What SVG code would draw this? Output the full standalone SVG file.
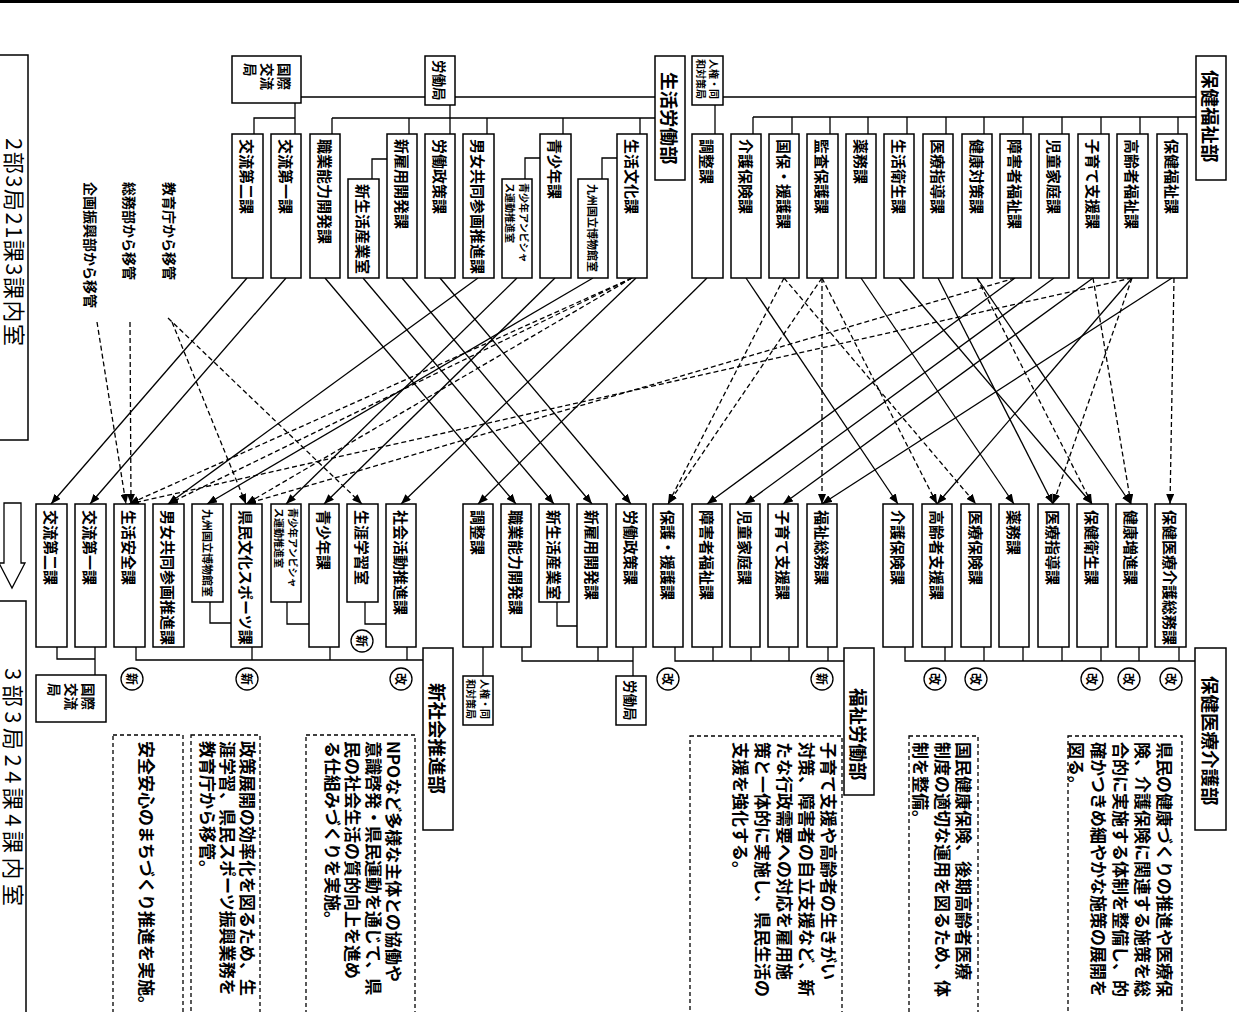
<svg xmlns="http://www.w3.org/2000/svg" width="1239" height="1012" viewBox="0 0 1239 1012">
<style>
.bx{fill:#fff;stroke:#000;stroke-width:1.5}
.ln{fill:none;stroke:#000;stroke-width:1.3}
.s{fill:none;stroke:#000;stroke-width:1.3;marker-end:url(#ah)}
.d{fill:none;stroke:#000;stroke-width:1.3;stroke-dasharray:5 3;marker-end:url(#ah)}
.db{fill:none;stroke:#000;stroke-width:1.3;stroke-dasharray:4 3}
text{font-family:"Noto Sans CJK JP","Noto Sans",sans-serif;fill:#000;dominant-baseline:central}
.t{font-size:15px;font-weight:700}
.h{font-size:18.5px;font-weight:700}
.sm{font-size:11px;font-weight:700}
.xs{font-size:10px;font-weight:700}
.ml{font-size:13.5px;font-weight:700}
.lb{font-size:14px;font-weight:700}
.ds{font-size:17px;font-weight:700}
.big{font-size:22px}
.c{fill:#fff;stroke:#000;stroke-width:1.3}
.ct{font-size:12px;font-weight:700;text-anchor:middle}
</style>
<defs>
<marker id="ah" viewBox="0 0 10 8" refX="10" refY="4" markerWidth="10" markerHeight="8" markerUnits="userSpaceOnUse" orient="auto"><path d="M0,0 L10,4 L0,8 z" fill="#000"/></marker>
</defs>
<rect x="0" y="0" width="1239" height="3" fill="#000"/>

<g id="connectors">
<path class="ln" d="M301 97 H655 M723 97 H1196"/>
<path class="ln" d="M753 117 H1196 M753 117 V134 M792 117 V134 M830 117 V134 M868 117 V134 M907 117 V134 M946 117 V134 M984 117 V134 M1023 117 V134 M1062 117 V134 M1101 117 V134 M1140 117 V134 M1178 117 V134"/>
<path class="ln" d="M715 105 V134"/>
<path class="ln" d="M332 118 H655 M332 118 V134 M409 118 V134 M487 118 V134 M563 118 V134 M640 118 V134"/>
<path class="ln" d="M450 105 V134 M295 103 V134 M254 134 V118 H295"/>
<path class="ln" d="M387 159 H372 V179 M540 158 H525 V179 M617 158 H602 V179"/>
<path class="ln" d="M57 647 V659 H95 M95 647 V675"/>
<path class="ln" d="M136 647 V660 H423 M252 647 V660 M330 647 V660 M407 647 V660"/>
<path class="ln" d="M210 602 V623 H231 M287 602 V624 H309 M365 602 V624 H386 M557 602 V626 H577"/>
<path class="ln" d="M483 647 V676 M522 647 V661 H633 M598 647 V661 M633 647 V676"/>
<path class="ln" d="M675 647 V661 H844 M713 647 V661 M751 647 V661 M789 647 V661 M828 647 V661"/>
<path class="ln" d="M905 647 V661 H1195 M945 647 V661 M984 647 V661 M1023 647 V661 M1062 647 V661 M1101 647 V661 M1139 647 V661 M1179 647 V661"/>
<line class="s" x1="247" y1="278" x2="51" y2="504"/>
<line class="s" x1="286" y1="278" x2="90" y2="504"/>
<line class="s" x1="325" y1="278" x2="516" y2="504"/>
<line class="s" x1="363" y1="278" x2="554" y2="504"/>
<line class="s" x1="402" y1="278" x2="592" y2="504"/>
<line class="s" x1="440" y1="278" x2="631" y2="504"/>
<line class="s" x1="478" y1="278" x2="168" y2="504"/>
<line class="s" x1="517" y1="278" x2="286" y2="504"/>
<line class="s" x1="555" y1="278" x2="324" y2="504"/>
<line class="s" x1="593" y1="278" x2="207" y2="504"/>
<line class="s" x1="636" y1="278" x2="401" y2="504"/>
<line class="s" x1="707" y1="278" x2="478" y2="504"/>
<line class="s" x1="746" y1="278" x2="898" y2="504"/>
<line class="s" x1="861" y1="278" x2="1014" y2="504"/>
<line class="s" x1="899" y1="278" x2="1092" y2="504"/>
<line class="s" x1="938" y1="278" x2="1053" y2="504"/>
<line class="s" x1="977" y1="278" x2="1131" y2="504"/>
<line class="s" x1="1015" y1="278" x2="707" y2="504"/>
<line class="s" x1="1054" y1="278" x2="745" y2="504"/>
<line class="s" x1="1093" y1="278" x2="783" y2="504"/>
<line class="s" x1="1132" y1="278" x2="937" y2="504"/>
<line class="s" x1="1172" y1="278" x2="822" y2="504"/>
<line class="d" x1="97" y1="322" x2="126" y2="504"/>
<line class="d" x1="130" y1="322" x2="131" y2="504"/>
<line class="d" x1="168" y1="318" x2="362" y2="504"/>
<line class="d" x1="172" y1="322" x2="246" y2="504"/>
<line class="d" x1="632" y1="278" x2="129" y2="504"/>
<line class="d" x1="632" y1="278" x2="168" y2="504"/>
<line class="d" x1="632" y1="278" x2="246" y2="504"/>
<line class="d" x1="784" y1="278" x2="668" y2="504"/>
<line class="d" x1="784" y1="278" x2="976" y2="504"/>
<line class="d" x1="822" y1="278" x2="668" y2="504"/>
<line class="d" x1="822" y1="278" x2="822" y2="504"/>
<line class="d" x1="822" y1="278" x2="937" y2="504"/>
<line class="d" x1="977" y1="278" x2="1092" y2="504"/>
<line class="d" x1="1093" y1="278" x2="1131" y2="504"/>
<line class="d" x1="1132" y1="278" x2="1053" y2="504"/>
<line class="d" x1="1132" y1="278" x2="129" y2="504"/>
<line class="d" x1="1015" y1="278" x2="246" y2="504"/>
<line class="d" x1="1174" y1="278" x2="1170" y2="504"/>
</g>

<g id="title-before">
<rect class="bx" x="-2" y="55" width="30" height="385"/>
<text class="big" transform="translate(15.5 138) rotate(90)" letter-spacing="1.5">2部3局21課3課内室</text>
</g>
<g id="title-arrow"><polygon points="4,503 21,503 21,563 25,563 12,588 -1,563 4,563" fill="#fff" stroke="#000" stroke-width="1.3"/></g>
<g id="title-after">
<rect class="bx" x="-2" y="601" width="28" height="420"/>
<text class="big" transform="translate(14.5 668) rotate(90)" letter-spacing="4.5">3部3局24課4課内室</text>
</g>
<g id="labels">
<text class="lb" transform="translate(170 182) rotate(90)">教育庁から移管</text>
<text class="lb" transform="translate(130 182) rotate(90)">総務部から移管</text>
<text class="lb" transform="translate(91 182) rotate(90)">企画振興部から移管</text>
</g>

<g id="t-kokusai"><rect class="bx" x="232" y="56" width="69" height="47"/><text class="ml" transform="translate(285 63) rotate(90)">国際</text><text class="ml" transform="translate(268 63) rotate(90)">交流</text><text class="ml" transform="translate(251 63) rotate(90)">局</text></g>
<g id="t-roudoukyoku"><rect class="bx" x="425" y="56" width="30" height="49"/><text class="ml" transform="translate(440 60) rotate(90)">労働局</text></g>
<g id="t-seikatsuroudoubu"><rect class="bx" x="655" y="56" width="30" height="124"/><text class="h" transform="translate(670 72) rotate(90)">生活労働部</text></g>
<g id="t-jinken"><rect class="bx" x="692" y="56" width="31" height="49"/><text class="xs" transform="translate(714 59) rotate(90)">人権・同</text><text class="xs" transform="translate(701 59) rotate(90)">和対策局</text></g>
<g id="t-hokenfukushibu"><rect class="bx" x="1196" y="56" width="30" height="124"/><text class="h" transform="translate(1211 70) rotate(90)">保健福祉部</text></g>

<g id="t-kouryu2"><rect class="bx" x="232" y="134" width="31" height="144"/><text class="t" transform="translate(247.5 139) rotate(90)">交流第二課</text></g>
<g id="t-kouryu1"><rect class="bx" x="271" y="134" width="30" height="144"/><text class="t" transform="translate(286 139) rotate(90)">交流第一課</text></g>
<g id="t-shokugyou"><rect class="bx" x="310" y="134" width="30" height="144"/><text class="t" transform="translate(325 139) rotate(90)">職業能力開発課</text></g>
<g id="t-shinseikatsu"><rect class="bx" x="348" y="179" width="31" height="99"/><text class="t" transform="translate(363.5 184) rotate(90)">新生活産業室</text></g>
<g id="t-shinkoyou"><rect class="bx" x="387" y="134" width="30" height="144"/><text class="t" transform="translate(402 139) rotate(90)">新雇用開発課</text></g>
<g id="t-roudouseisaku"><rect class="bx" x="425" y="134" width="30" height="144"/><text class="t" transform="translate(440 139) rotate(90)">労働政策課</text></g>
<g id="t-danjo"><rect class="bx" x="463" y="134" width="31" height="144"/><text class="t" transform="translate(478.5 139) rotate(90)">男女共同参画推進課</text></g>
<g id="t-ambitious"><rect class="bx" x="502" y="179" width="30" height="99"/><text class="xs" transform="translate(524 183) rotate(90)">青少年アンビシャ</text><text class="xs" transform="translate(510 183) rotate(90)">ス運動推進室</text></g>
<g id="t-seishounen"><rect class="bx" x="540" y="134" width="31" height="144"/><text class="t" transform="translate(555.5 139) rotate(90)">青少年課</text></g>
<g id="t-kyuhaku"><rect class="bx" x="578" y="179" width="30" height="99"/><text class="sm" transform="translate(593 184) rotate(90)">九州国立博物館室</text></g>
<g id="t-seikatsubunka"><rect class="bx" x="617" y="134" width="30" height="144"/><text class="t" transform="translate(632 139) rotate(90)">生活文化課</text></g>
<g id="t-chousei"><rect class="bx" x="692" y="134" width="31" height="144"/><text class="t" transform="translate(707.5 139) rotate(90)">調整課</text></g>
<g id="t-kaigohoken"><rect class="bx" x="731" y="134" width="30" height="144"/><text class="t" transform="translate(746 139) rotate(90)">介護保険課</text></g>
<g id="t-kokuho"><rect class="bx" x="769" y="134" width="30" height="144"/><text class="t" transform="translate(784 139) rotate(90)">国保・援護課</text></g>
<g id="t-kansa"><rect class="bx" x="807" y="134" width="31" height="144"/><text class="t" transform="translate(822.5 139) rotate(90)">監査保護課</text></g>
<g id="t-yakumu"><rect class="bx" x="846" y="134" width="30" height="144"/><text class="t" transform="translate(861 139) rotate(90)">薬務課</text></g>
<g id="t-seikatsueisei"><rect class="bx" x="884" y="134" width="30" height="144"/><text class="t" transform="translate(899 139) rotate(90)">生活衛生課</text></g>
<g id="t-iryoushidou"><rect class="bx" x="923" y="134" width="30" height="144"/><text class="t" transform="translate(938 139) rotate(90)">医療指導課</text></g>
<g id="t-kenkoutaisaku"><rect class="bx" x="962" y="134" width="30" height="144"/><text class="t" transform="translate(977 139) rotate(90)">健康対策課</text></g>
<g id="t-shougaisha"><rect class="bx" x="1000" y="134" width="31" height="144"/><text class="t" transform="translate(1015.5 139) rotate(90)">障害者福祉課</text></g>
<g id="t-jidoukatei"><rect class="bx" x="1039" y="134" width="30" height="144"/><text class="t" transform="translate(1054 139) rotate(90)">児童家庭課</text></g>
<g id="t-kosodate"><rect class="bx" x="1078" y="134" width="31" height="144"/><text class="t" transform="translate(1093.5 139) rotate(90)">子育て支援課</text></g>
<g id="t-koureisha"><rect class="bx" x="1117" y="134" width="31" height="144"/><text class="t" transform="translate(1132.5 139) rotate(90)">高齢者福祉課</text></g>
<g id="t-hokenfukushi"><rect class="bx" x="1157" y="134" width="30" height="144"/><text class="t" transform="translate(1172 139) rotate(90)">保健福祉課</text></g>

<g id="b-kouryu2"><rect class="bx" x="36" y="504" width="31" height="143"/><text class="t" transform="translate(51.5 510) rotate(90)">交流第二課</text></g>
<g id="b-kouryu1"><rect class="bx" x="75" y="504" width="31" height="143"/><text class="t" transform="translate(90.5 510) rotate(90)">交流第一課</text></g>
<g id="b-seikatsuanzen"><rect class="bx" x="114" y="504" width="31" height="143"/><text class="t" transform="translate(129.5 510) rotate(90)">生活安全課</text></g>
<g id="b-danjo"><rect class="bx" x="153" y="504" width="31" height="143"/><text class="t" transform="translate(168.5 510) rotate(90)">男女共同参画推進課</text></g>
<g id="b-kyuhaku"><rect class="bx" x="192" y="504" width="31" height="98"/><text class="sm" transform="translate(207.5 509) rotate(90)">九州国立博物館室</text></g>
<g id="b-kenminbunka"><rect class="bx" x="231" y="504" width="31" height="143"/><text class="t" transform="translate(246.5 510) rotate(90)">県民文化スポーツ課</text></g>
<g id="b-ambitious"><rect class="bx" x="271" y="504" width="30" height="98"/><text class="xs" transform="translate(293 508) rotate(90)">青少年アンビシャ</text><text class="xs" transform="translate(279 508) rotate(90)">ス運動推進室</text></g>
<g id="b-seishounen"><rect class="bx" x="309" y="504" width="30" height="143"/><text class="t" transform="translate(324 510) rotate(90)">青少年課</text></g>
<g id="b-shougaigakushu"><rect class="bx" x="347" y="504" width="31" height="98"/><text class="t" transform="translate(362.5 510) rotate(90)">生涯学習室</text></g>
<g id="b-shakaikatsudou"><rect class="bx" x="386" y="504" width="30" height="143"/><text class="t" transform="translate(401 510) rotate(90)">社会活動推進課</text></g>
<g id="b-chousei"><rect class="bx" x="463" y="504" width="30" height="143"/><text class="t" transform="translate(478 510) rotate(90)">調整課</text></g>
<g id="b-shokugyou"><rect class="bx" x="501" y="504" width="30" height="143"/><text class="t" transform="translate(516 510) rotate(90)">職業能力開発課</text></g>
<g id="b-shinseikatsu"><rect class="bx" x="539" y="504" width="30" height="98"/><text class="t" transform="translate(554 510) rotate(90)">新生活産業室</text></g>
<g id="b-shinkoyou"><rect class="bx" x="577" y="504" width="30" height="143"/><text class="t" transform="translate(592 510) rotate(90)">新雇用開発課</text></g>
<g id="b-roudouseisaku"><rect class="bx" x="616" y="504" width="30" height="143"/><text class="t" transform="translate(631 510) rotate(90)">労働政策課</text></g>
<g id="b-hogo"><rect class="bx" x="653" y="504" width="30" height="143"/><text class="t" transform="translate(668 510) rotate(90)">保護・援護課</text></g>
<g id="b-shougaisha"><rect class="bx" x="692" y="504" width="30" height="143"/><text class="t" transform="translate(707 510) rotate(90)">障害者福祉課</text></g>
<g id="b-jidoukatei"><rect class="bx" x="730" y="504" width="30" height="143"/><text class="t" transform="translate(745 510) rotate(90)">児童家庭課</text></g>
<g id="b-kosodate"><rect class="bx" x="768" y="504" width="30" height="143"/><text class="t" transform="translate(783 510) rotate(90)">子育て支援課</text></g>
<g id="b-fukushisoumu"><rect class="bx" x="807" y="504" width="30" height="143"/><text class="t" transform="translate(822 510) rotate(90)">福祉総務課</text></g>
<g id="b-kaigohoken"><rect class="bx" x="883" y="504" width="30" height="143"/><text class="t" transform="translate(898 510) rotate(90)">介護保険課</text></g>
<g id="b-koureishashien"><rect class="bx" x="922" y="504" width="30" height="143"/><text class="t" transform="translate(937 510) rotate(90)">高齢者支援課</text></g>
<g id="b-iryouhoken"><rect class="bx" x="961" y="504" width="30" height="143"/><text class="t" transform="translate(976 510) rotate(90)">医療保険課</text></g>
<g id="b-yakumu"><rect class="bx" x="999" y="504" width="30" height="143"/><text class="t" transform="translate(1014 510) rotate(90)">薬務課</text></g>
<g id="b-iryoushidou"><rect class="bx" x="1038" y="504" width="31" height="143"/><text class="t" transform="translate(1053.5 510) rotate(90)">医療指導課</text></g>
<g id="b-hokeneisei"><rect class="bx" x="1077" y="504" width="31" height="143"/><text class="t" transform="translate(1092.5 510) rotate(90)">保健衛生課</text></g>
<g id="b-kenkouzoushin"><rect class="bx" x="1116" y="504" width="31" height="143"/><text class="t" transform="translate(1131.5 510) rotate(90)">健康増進課</text></g>
<g id="b-hokeniryoukaigosoumu"><rect class="bx" x="1155" y="504" width="31" height="143"/><text class="t" transform="translate(1170.5 510) rotate(90)">保健医療介護総務課</text></g>

<g id="b-kokusai"><rect class="bx" x="36" y="675" width="70" height="47"/><text class="ml" transform="translate(89 683) rotate(90)">国際</text><text class="ml" transform="translate(72 683) rotate(90)">交流</text><text class="ml" transform="translate(55 683) rotate(90)">局</text></g>
<g id="b-shinshakaibu"><rect class="bx" x="423" y="648" width="30" height="182"/><text class="h" transform="translate(438 683) rotate(90)">新社会推進部</text></g>
<g id="b-jinken"><rect class="bx" x="463" y="676" width="30" height="49"/><text class="xs" transform="translate(485 679) rotate(90)">人権・同</text><text class="xs" transform="translate(471 679) rotate(90)">和対策局</text></g>
<g id="b-roudoukyoku"><rect class="bx" x="616" y="676" width="30" height="49"/><text class="ml" transform="translate(631 680) rotate(90)">労働局</text></g>
<g id="b-fukushiroudoubu"><rect class="bx" x="844" y="648" width="30" height="147"/><text class="h" transform="translate(859 688) rotate(90)">福祉労働部</text></g>
<g id="b-hokeniryoukaigobu"><rect class="bx" x="1195" y="648" width="31" height="182"/><text class="h" transform="translate(1210.5 676) rotate(90)">保健医療介護部</text></g>

<g id="marks">
<circle class="c" cx="132" cy="679" r="11"/><text class="ct" transform="translate(132 679) rotate(90)">新</text>
<circle class="c" cx="247" cy="679" r="11"/><text class="ct" transform="translate(247 679) rotate(90)">新</text>
<circle class="c" cx="362" cy="641" r="11"/><text class="ct" transform="translate(362 641) rotate(90)">新</text>
<circle class="c" cx="401" cy="679" r="11"/><text class="ct" transform="translate(401 679) rotate(90)">改</text>
<circle class="c" cx="668" cy="679" r="11"/><text class="ct" transform="translate(668 679) rotate(90)">改</text>
<circle class="c" cx="822" cy="679" r="11"/><text class="ct" transform="translate(822 679) rotate(90)">新</text>
<circle class="c" cx="935" cy="679" r="11"/><text class="ct" transform="translate(935 679) rotate(90)">改</text>
<circle class="c" cx="976" cy="679" r="11"/><text class="ct" transform="translate(976 679) rotate(90)">改</text>
<circle class="c" cx="1092" cy="679" r="11"/><text class="ct" transform="translate(1092 679) rotate(90)">改</text>
<circle class="c" cx="1129" cy="679" r="11"/><text class="ct" transform="translate(1129 679) rotate(90)">改</text>
<circle class="c" cx="1171" cy="679" r="11"/><text class="ct" transform="translate(1171 679) rotate(90)">改</text>
</g>

<g id="desc-hokeniryoukaigo">
<rect class="db" x="1068" y="736" width="114" height="300"/>
<text class="ds" transform="translate(1165 742) rotate(90)">県民の健康づくりの推進や医療保</text>
<text class="ds" transform="translate(1143 742) rotate(90)">険、介護保険に関連する施策を総</text>
<text class="ds" transform="translate(1121 742) rotate(90)">合的に実施する体制を整備し、的</text>
<text class="ds" transform="translate(1099 742) rotate(90)">確かつきめ細やかな施策の展開を</text>
<text class="ds" transform="translate(1077 742) rotate(90)">図る。</text>
</g>
<g id="desc-kokuho">
<rect class="db" x="909" y="736" width="69" height="300"/>
<text class="ds" transform="translate(964 742) rotate(90)">国民健康保険、後期高齢者医療</text>
<text class="ds" transform="translate(943 742) rotate(90)">制度の適切な運用を図るため、体</text>
<text class="ds" transform="translate(921 742) rotate(90)">制を整備。</text>
</g>
<g id="desc-fukushiroudou">
<rect class="db" x="690" y="736" width="152" height="300"/>
<text class="ds" transform="translate(829 742) rotate(90)">子育て支援や高齢者の生きがい</text>
<text class="ds" transform="translate(807 742) rotate(90)">対策、障害者の自立支援など、新</text>
<text class="ds" transform="translate(785 742) rotate(90)">たな行政需要への対応を雇用施</text>
<text class="ds" transform="translate(763 742) rotate(90)">策と一体的に実施し、県民生活の</text>
<text class="ds" transform="translate(741 742) rotate(90)">支援を強化する。</text>
</g>
<g id="desc-shinshakai">
<rect class="db" x="306" y="735" width="109" height="300"/>
<text class="ds" transform="translate(394 741) rotate(90)">NPOなど多様な主体との協働や</text>
<text class="ds" transform="translate(374 741) rotate(90)">意識啓発・県民運動を通じて、県</text>
<text class="ds" transform="translate(353 741) rotate(90)">民の社会生活の質的向上を進め</text>
<text class="ds" transform="translate(333 741) rotate(90)">る仕組みづくりを実施。</text>
</g>
<g id="desc-seisaku">
<rect class="db" x="191" y="735" width="69" height="300"/>
<text class="ds" transform="translate(248 741) rotate(90)">政策展開の効率化を図るため、生</text>
<text class="ds" transform="translate(228 741) rotate(90)">涯学習、県民スポーツ振興業務を</text>
<text class="ds" transform="translate(208 741) rotate(90)">教育庁から移管。</text>
</g>
<g id="desc-anzen">
<rect class="db" x="113" y="735" width="70" height="300"/>
<text class="ds" transform="translate(147 741) rotate(90)">安全安心のまちづくり推進を実施。</text>
</g>
</svg>
